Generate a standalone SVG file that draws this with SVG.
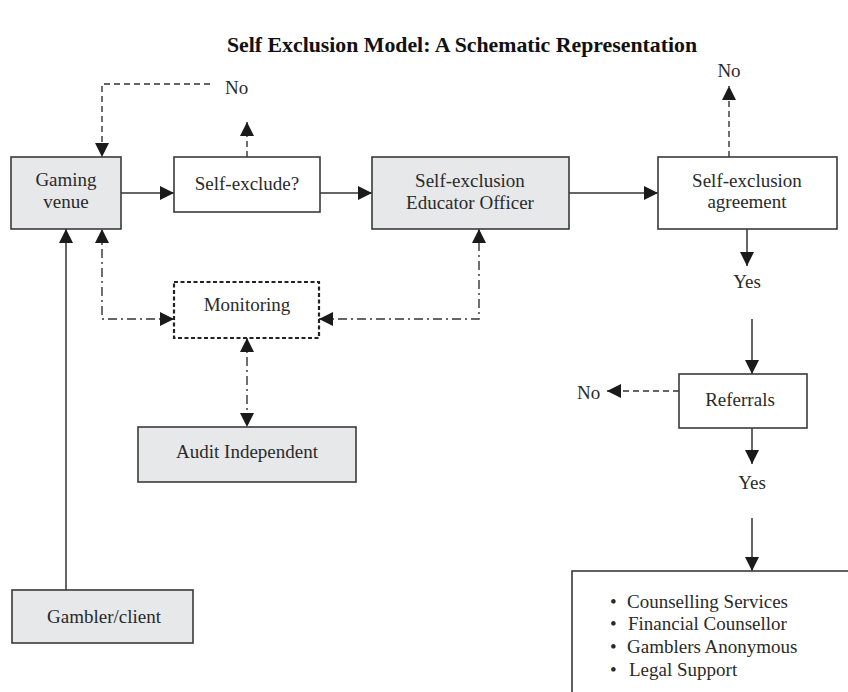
<svg xmlns="http://www.w3.org/2000/svg" width="848" height="692" viewBox="0 0 848 692">
<defs>
<marker id="ah" viewBox="0 0 14 14" refX="14" refY="7" markerWidth="14" markerHeight="14" markerUnits="userSpaceOnUse" orient="auto-start-reverse">
<path d="M0,0 L14,7 L0,14 Z" fill="#1a1a1a"/>
</marker>
</defs>
<style>
text{font-family:"Liberation Serif","Times New Roman",serif;font-size:19px;fill:#2a2a2a;}
.title{font-weight:bold;font-size:21.8px;fill:#111;}
.box{stroke:#3a3a3a;stroke-width:1.6;}
.grey{fill:#e7e8ea;}
.white{fill:#fff;}
.mon{fill:#fff;stroke:#222;stroke-width:2.2;stroke-dasharray:4,2.5;}
.solid{fill:none;stroke:#333;stroke-width:1.5;}
.dash{fill:none;stroke:#333;stroke-width:1.4;stroke-dasharray:6,4;}
.dd{fill:none;stroke:#333;stroke-width:1.4;stroke-dasharray:9,4,2,4;}
</style>
<rect width="848" height="692" fill="#fff"/>
<text class="title" x="462" y="52" text-anchor="middle">Self Exclusion Model: A Schematic Representation</text>

<g id="connectors">
<path class="solid" d="M121,193 L174,193" marker-end="url(#ah)"/>
<path class="solid" d="M320,193 L372,193" marker-end="url(#ah)"/>
<path class="solid" d="M569,193 L658,193" marker-end="url(#ah)"/>
<path class="dash" d="M210,84 L102,84 L102,157" marker-end="url(#ah)"/>
<path class="dash" d="M247,157 L247,122" marker-end="url(#ah)"/>
<path class="dash" d="M729,157 L729,86" marker-end="url(#ah)"/>
<path class="solid" d="M747,229 L747,266" marker-end="url(#ah)"/>
<path class="solid" d="M752,319 L752,374" marker-end="url(#ah)"/>
<path class="dash" d="M679,391 L607,391" marker-end="url(#ah)"/>
<path class="solid" d="M752,428 L752,464" marker-end="url(#ah)"/>
<path class="solid" d="M752,518 L752,571" marker-end="url(#ah)"/>
<path class="solid" d="M66,590 L66,229" marker-end="url(#ah)"/>
<path class="dd" d="M174,319 L102,319 L102,229" marker-start="url(#ah)" marker-end="url(#ah)"/>
<path class="dd" d="M319,319 L479,319 L479,229" marker-start="url(#ah)" marker-end="url(#ah)"/>
<path class="dd" d="M247,338 L247,427" marker-start="url(#ah)" marker-end="url(#ah)"/>
</g>

<g id="gaming-venue">
<rect class="box grey" x="11" y="157" width="110" height="72"/>
<text x="66" y="186" text-anchor="middle">Gaming</text>
<text x="66" y="208" text-anchor="middle">venue</text>
</g>
<g id="self-exclude">
<rect class="box white" x="174" y="157" width="146" height="55"/>
<text x="247" y="190" text-anchor="middle">Self-exclude?</text>
</g>
<g id="educator-officer">
<rect class="box grey" x="372" y="157" width="197" height="72"/>
<text x="470" y="187" text-anchor="middle">Self-exclusion</text>
<text x="470" y="209" text-anchor="middle">Educator Officer</text>
</g>
<g id="agreement">
<rect class="box white" x="658" y="157" width="179" height="72"/>
<text x="747" y="187" text-anchor="middle">Self-exclusion</text>
<text x="747" y="208" text-anchor="middle">agreement</text>
</g>
<g id="monitoring">
<rect class="mon" x="174" y="282" width="145" height="56"/>
<text x="247" y="311" text-anchor="middle">Monitoring</text>
</g>
<g id="audit">
<rect class="box grey" x="138" y="427" width="218" height="55"/>
<text x="247" y="458" text-anchor="middle">Audit Independent</text>
</g>
<g id="gambler">
<rect class="box grey" x="12" y="590" width="181" height="53"/>
<text x="104" y="623" text-anchor="middle">Gambler/client</text>
</g>
<g id="referrals">
<rect class="box white" x="679" y="374" width="128" height="54"/>
<text x="740" y="406" text-anchor="middle">Referrals</text>
</g>
<g id="services">
<rect class="box white" x="572" y="571" width="300" height="140"/>
<text x="610" y="608">•</text><text x="627" y="608">Counselling Services</text>
<text x="610" y="630">•</text><text x="628" y="630">Financial Counsellor</text>
<text x="610" y="653">•</text><text x="627" y="653">Gamblers Anonymous</text>
<text x="610" y="676">•</text><text x="629" y="676">Legal Support</text>
</g>
<g id="labels">
<text x="225" y="94">No</text>
<text x="729" y="77" text-anchor="middle">No</text>
<text x="747" y="288" text-anchor="middle">Yes</text>
<text x="577" y="399">No</text>
<text x="752" y="489" text-anchor="middle">Yes</text>
</g>
</svg>
